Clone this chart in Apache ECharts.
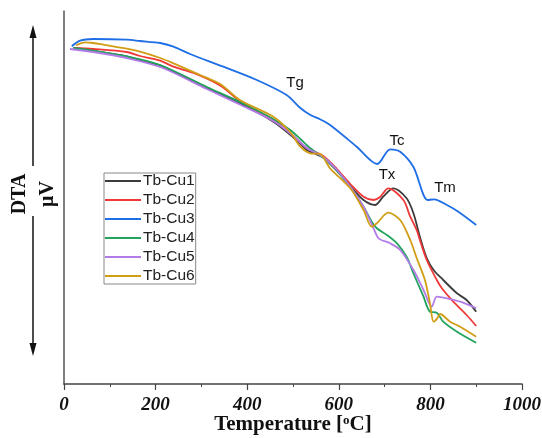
<!DOCTYPE html>
<html>
<head>
<meta charset="utf-8">
<style>html,body{margin:0;padding:0;background:#fff;}#c{width:542px;height:438px;}</style>
<script src="https://cdn.jsdelivr.net/npm/echarts@6/dist/echarts.min.js"></script>
</head>
<body>
<div id="c"></div>
<script>
// Temperature (°C) / DTA signal (arbitrary µV units)
const names = ['Tb-Cu1','Tb-Cu2','Tb-Cu3','Tb-Cu4','Tb-Cu5','Tb-Cu6'];
const colors = ['#3c3c3c','#f03838','#1e6ee6','#22a45d','#b27ce8','#d19d14'];
const xTicks = [0,200,400,600,800,1000];

const cu1 = [[20,342],[64,339.3],[137,333.7],[166,329.3],[210,324.7],[239,318.3],[312,301.7],[384,286.7],[457,268.3],[501,252.5],[530,240],[544,237],[566,232.5],[596,219],[625,204],[654,190],[679,185],[697,193.3],[719,201.7],[748,191.7],[763,176.7],[777,153.3],[792,132],[807,120],[828,110],[858,96.7],[879,90],[900,78.3]];
const cu2 = [[20,342],[64,341],[137,338],[166,334],[210,329.3],[239,323.3],[283,317],[341,304.5],[384,289],[457,270],[501,254],[530,242],[566,234],[596,221],[625,206],[654,193.3],[676,190],[690,193],[708,201.7],[741,190],[756,173.3],[770,160],[777,150],[792,130],[814,110],[825,101.7],[850,88.3],[879,75],[900,64]];
const cu3 = [[17,343.7],[35,349.3],[64,351],[137,350.3],[166,349],[210,347],[239,343.3],[275,336],[348,323.3],[421,310],[486,295],[516,282],[538,275],[559,270.7],[581,265],[639,243.3],[684,226],[712,240.7],[734,238.3],[763,223],[794,190],[808,190.7],[836,185],[861,178.3],[900,165]];
const cu4 = [[20,342],[64,339.3],[137,333.7],[210,325],[312,303],[384,288],[457,271],[494,260],[516,251],[538,241.7],[581,226.7],[625,203.3],[654,183.3],[672,168.3],[683,161.7],[705,155],[727,146.7],[748,133.3],[763,116.7],[785,93.3],[799,78.3],[814,77.3],[828,68.3],[858,58.3],[900,47.3]];
const cu5 = [[13,341],[64,338],[137,332],[210,323],[312,301],[384,285.5],[457,269],[501,254],[530,242],[566,233],[596,220],[625,203.3],[654,183.3],[676,161.7],[687,151.7],[712,146.7],[734,140],[763,120],[785,100],[803,83.3],[814,93.3],[836,91.7],[865,88.3],[900,81.7]];
const cu6 = [[26,344.7],[46,347.7],[64,347],[86,345.3],[137,341.3],[166,338.3],[210,332],[239,326.7],[297,315],[341,306],[384,290],[457,273.3],[494,258],[516,243.3],[538,236.7],[559,236],[581,221.7],[625,201.7],[654,180],[672,163.3],[683,166.7],[708,177.3],[734,170],[756,150],[770,132],[788,110],[799,86.7],[807,68.3],[815,71.7],[821,76],[843,68.3],[865,63.3],[900,53.3]];
const seriesData = [cu1,cu2,cu3,cu4,cu5,cu6];

const chart = echarts.init(document.getElementById('c'), null, {renderer:'canvas'});
const serif = '"Liberation Serif","Times New Roman",serif';
const sans = '"Liberation Sans",Arial,sans-serif';

const option = {
  animation:false,
  backgroundColor:'#fff',
  grid:{left:64,right:20,top:11,bottom:54,containLabel:false,outerBoundsMode:'none'},
  xAxis:{
    type:'value',min:0,max:1000,interval:200,
    axisLine:{show:true,lineStyle:{color:'#444',width:1.5}},
    axisTick:{show:true,inside:false,length:6,lineStyle:{color:'#444',width:1.2}},
    minorTick:{show:true,splitNumber:2,length:3,lineStyle:{color:'#444',width:1}},
    splitLine:{show:false},
    axisLabel:{fontFamily:serif,fontWeight:'bold',fontStyle:'italic',fontSize:19,color:'#111',margin:12,
      formatter:v=>xTicks.includes(v)?String(v):''},
    name:'Temperature [{sup|o}C]',nameLocation:'middle',nameGap:30,nameMoveOverlap:false,
    nameTextStyle:{fontFamily:serif,fontWeight:'bold',fontSize:21,color:'#111',
      rich:{sup:{fontFamily:serif,fontWeight:'bold',fontSize:13,color:'#111',verticalAlign:'top',padding:[0,0,9,0]}}}
  },
  yAxis:{
    type:'value',min:6,max:379,
    axisLine:{show:true,lineStyle:{color:'#555',width:1.5}},
    axisTick:{show:false},axisLabel:{show:false},splitLine:{show:false}
  },
  legend:{
    orient:'vertical',left:104,top:173,
    data:names,
    icon:'rect',itemWidth:36,itemHeight:2,itemGap:3,
    padding:[0,1,0,1],
    borderColor:'#888',borderWidth:1,
    textStyle:{fontFamily:sans,fontSize:15.5,color:'#222',padding:[0,0,0,-3]}
  },
  series:names.map((n,i)=>({
    name:n,type:'line',data:seriesData[i],showSymbol:false,smooth:0.3,
    lineStyle:{color:colors[i],width:1.8},itemStyle:{color:colors[i]},
    z: i===2?3:2
  })),
  graphic:[
    {type:'text',x:295,y:83,style:{text:'Tg',font:'15px '+sans,fill:'#111',align:'center',verticalAlign:'middle'}},
    {type:'text',x:397,y:141,style:{text:'Tc',font:'15px '+sans,fill:'#111',align:'center',verticalAlign:'middle'}},
    {type:'text',x:387,y:175,style:{text:'Tx',font:'15px '+sans,fill:'#111',align:'center',verticalAlign:'middle'}},
    {type:'text',x:445,y:188,style:{text:'Tm',font:'15px '+sans,fill:'#111',align:'center',verticalAlign:'middle'}},
    {type:'text',x:20,y:194,rotation:Math.PI/2,style:{text:'DTA',font:'bold 20px '+serif,fill:'#111',align:'center',verticalAlign:'middle'}},
    {type:'text',x:48,y:194,rotation:Math.PI/2,style:{text:'μV',font:'bold 20px '+serif,fill:'#111',align:'center',verticalAlign:'middle'}},
    {type:'line',shape:{x1:33,y1:166,x2:33,y2:36},style:{stroke:'#111',lineWidth:1.5}},
    {type:'polygon',shape:{points:[[33,25],[29.5,38],[36.5,38]]},style:{fill:'#111'}},
    {type:'line',shape:{x1:33,y1:216,x2:33,y2:345},style:{stroke:'#111',lineWidth:1.5}},
    {type:'polygon',shape:{points:[[33,356],[29.5,343],[36.5,343]]},style:{fill:'#111'}}
  ]
};
chart.setOption(option);
</script>
</body>
</html>
